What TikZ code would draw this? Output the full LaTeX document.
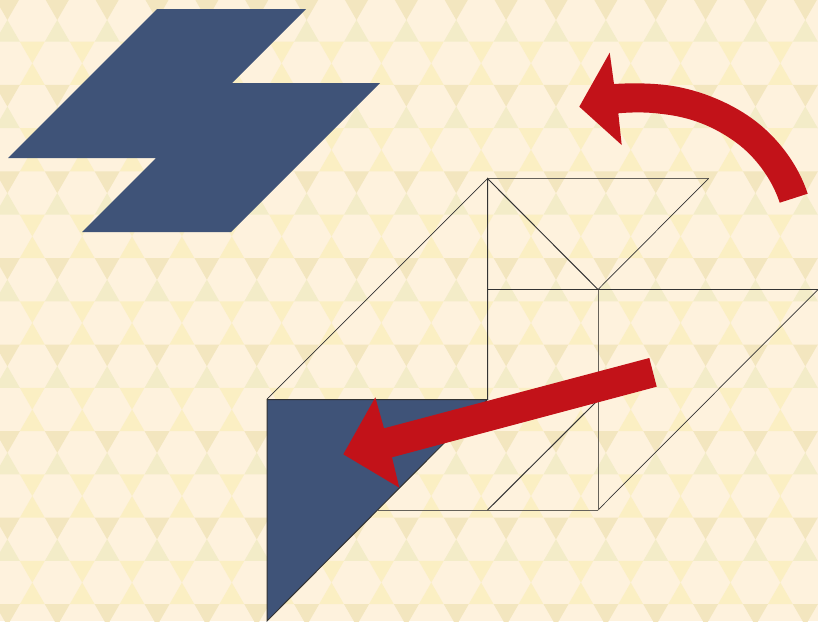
\documentclass[tikz,border=0pt]{standalone}
\definecolor{basec}{HTML}{FEF2DD}
\definecolor{tanc}{HTML}{F3E6BF}
\definecolor{palec}{HTML}{F3ECC8}
\definecolor{yelc}{HTML}{FBEFC3}
\definecolor{bluec}{HTML}{3F5378}
\definecolor{redc}{HTML}{C21219}
\definecolor{linec}{HTML}{333333}
\definecolor{greyc}{HTML}{66625A}
\tikzset{
  wire/.style={draw=linec,line width=1pt},
  thinwire/.style={draw=linec,line width=0.7pt},
  greywire/.style={draw=greyc,line width=1pt},
  shapefill/.style={fill=bluec},
  arrowfill/.style={fill=redc},
}
\begin{document}
\begin{tikzpicture}[x=1pt,y=-1pt]
\useasboundingbox (0,0) rectangle (818,621);
\clip (0,0) rectangle (818,621);
\fill[basec] (0,0) rectangle (818,621);
% trihexagonal background
\foreach \j in {-1,...,7}{
  \pgfmathsetmacro{\yc}{20+86.55*\j}
  \foreach \i in {-2,...,17}{
    \pgfmathsetmacro{\xa}{7.4+49.87*\i}
    \pgfmathsetmacro{\xb}{32.3+49.87*\i}
    \fill[tanc] (\xa,\yc) -- (\xa-12.47,\yc-21.64) -- (\xa+12.47,\yc-21.64) -- cycle;
    \fill[palec] (\xa,\yc) -- (\xa-12.47,\yc+21.64) -- (\xa+12.47,\yc+21.64) -- cycle;
    \fill[yelc] (\xb,\yc+43.27) -- (\xb-12.47,\yc+21.64) -- (\xb+12.47,\yc+21.64) -- cycle;
    \fill[yelc] (\xb,\yc+43.27) -- (\xb-12.47,\yc+64.91) -- (\xb+12.47,\yc+64.91) -- cycle;
  }
}
% blue polygon
\fill[shapefill] (157,9) -- (306,9) -- (232,83) -- (380,83) -- (231,232) -- (82,232) -- (156,158) -- (8,158) -- cycle;
% wireframe
\draw[thinwire] (267,399) -- (487.5,178.5);
\draw[greywire] (487.5,178.5) -- (708.5,178.5);
\draw[thinwire] (708.5,178.5) -- (598,289.5);
\draw[wire] (598,289.5) -- (487.5,178.5) -- (487.5,399);
\draw[wire] (487.5,289.5) -- (598,289.5);
\draw[thinwire] (598,289.5) -- (818,289.5) -- (598,510);
\draw[greywire] (598,289.5) -- (598,510);
\draw[greywire] (598,510) -- (378,510);
\draw[wire] (598,400) -- (487.5,510);
% blue triangle
\fill[shapefill,draw=linec,line width=1pt] (267,399.5) -- (487.5,399.5) -- (267,621) -- cycle;
% curved arrow
\fill[arrowfill] (807.7,193.7) .. controls (798,164) and (776.8,136.3) .. (751.7,118.3) .. controls (727.4,100.9) and (695.4,88.5) .. (665.7,85) .. controls (648,83) and (630,83) .. (614,84) -- (609.7,52.7) -- (579.3,106.7) -- (621.7,145) -- (618.3,113.3) .. controls (633,112) and (648,112) .. (662.3,114) .. controls (690,117) and (713,126) .. (735,141.7) .. controls (755,156) and (772,179) .. (779.7,202.7) -- cycle;
% straight arrow
\fill[arrowfill] (649.3,358) -- (656.7,386.7) -- (392,457.3) -- (399.3,487.7) -- (343.3,454.3) -- (375.3,397.3) -- (384,428.3) -- cycle;
\end{tikzpicture}
\end{document}
